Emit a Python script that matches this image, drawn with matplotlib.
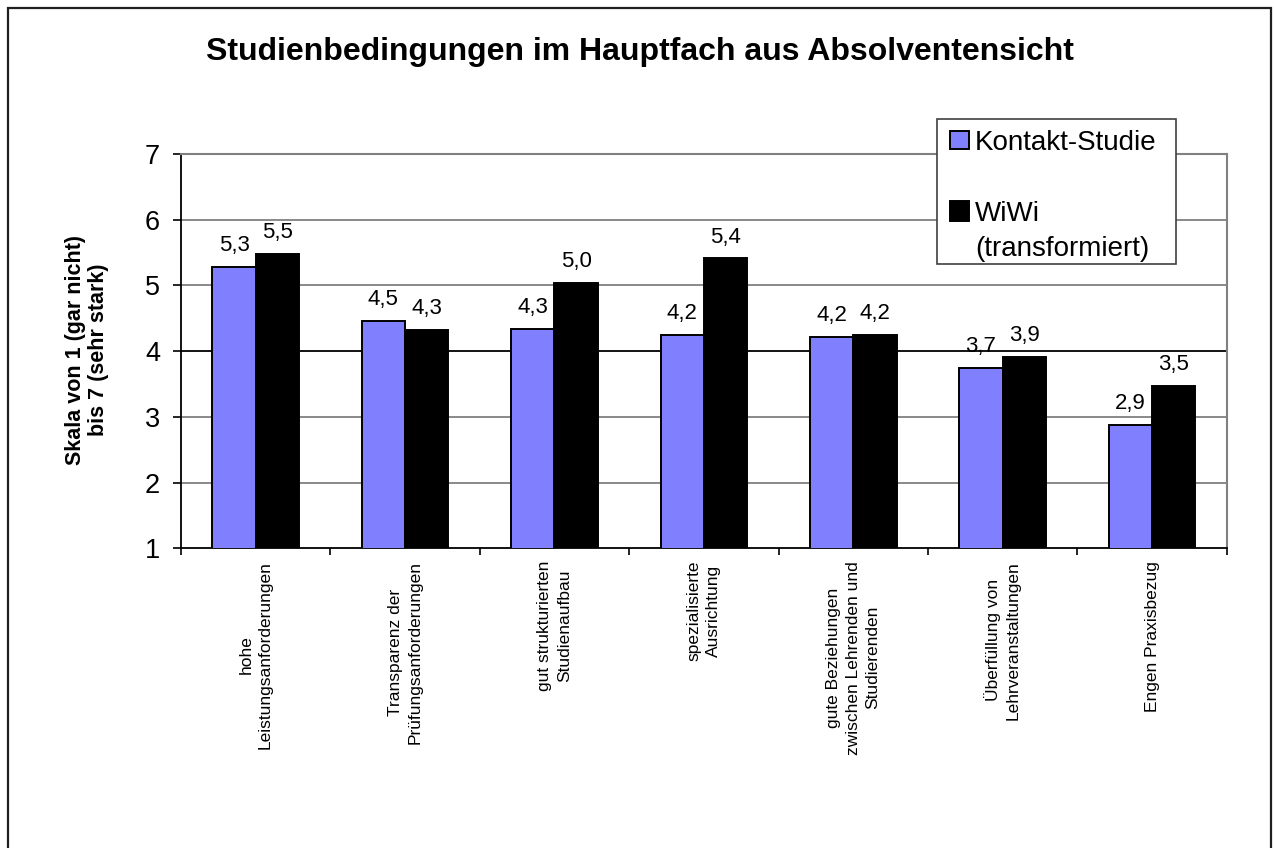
import matplotlib
matplotlib.use("Agg")
import matplotlib.pyplot as plt
from matplotlib.patches import Rectangle
import numpy as np

plt.rcParams['font.family'] = ['Liberation Sans', 'DejaVu Sans']

# Data
categories = [
    "hohe\nLeistungsanforderungen",
    "Transparenz der\nPrüfungsanforderungen",
    "gut strukturierten\nStudienaufbau",
    "spezialisierte\nAusrichtung",
    "gute Beziehungen\nzwischen Lehrenden und\nStudierenden",
    "Überfüllung von\nLehrveranstaltungen",
    "Engen Praxisbezug",
]
kontakt = [5.28, 4.46, 4.34, 4.24, 4.21, 3.74, 2.88]
wiwi = [5.48, 4.32, 5.04, 5.41, 4.24, 3.91, 3.47]
series_names = ["Kontakt-Studie", "WiWi", "(transformiert)"]
yticks = [1, 2, 3, 4, 5, 6, 7]

W, H = 1274, 848
fig = plt.figure(figsize=(W / 100, H / 100), dpi=100)


def fx(px):
    return px / W


def fy(py):
    return 1 - py / H


# Plot area
ax = fig.add_axes([fx(181), fy(548.3), fx(1226.7) - fx(181), fy(154) - fy(548.3)])
x = np.arange(len(categories))
bw = 0.29
ax.bar(x - bw / 2, kontakt, bw, bottom=0, color="#8080FF", edgecolor="black",
       linewidth=1.4, zorder=3)
ax.bar(x + bw / 2, wiwi, bw, bottom=0, color="black", edgecolor="black",
       linewidth=1.4, zorder=3)

ax.set_xlim(-0.5, len(categories) - 0.5)
ax.set_ylim(1, 7)

# Gridlines
for v in yticks[1:]:
    ax.axhline(v, color="black" if v == 4 else "#808080", linewidth=1.3, zorder=1)

for s in ["top", "right"]:
    ax.spines[s].set_color("#808080")
    ax.spines[s].set_linewidth(1.5)
for s in ["left", "bottom"]:
    ax.spines[s].set_color("black")
    ax.spines[s].set_linewidth(1.3)

ax.set_yticks(yticks)
ax.set_yticklabels([str(t) for t in yticks], fontsize=19.5)
ax.tick_params(axis="y", direction="out", length=6, width=1.2, pad=9)

ax.set_xticks(x)
ax.set_xticklabels(categories, rotation=90, fontsize=12.5, ha="center", va="top",
                   multialignment="center", linespacing=1.4)
ax.tick_params(axis="x", which="major", length=0, pad=9)
ax.set_xticks(np.arange(-0.5, len(categories)), minor=True)
ax.tick_params(axis="x", which="minor", direction="out", length=5, width=1.2)

# Value labels
for xi, v in zip(x - bw / 2, kontakt):
    ax.annotate(f"{v:.1f}".replace(".", ","), (xi, v), xytext=(0, 11.5),
                textcoords="offset points", ha="center", va="baseline", fontsize=16)
for xi, v in zip(x + bw / 2, wiwi):
    ax.annotate(f"{v:.1f}".replace(".", ","), (xi, v), xytext=(0, 11.5),
                textcoords="offset points", ha="center", va="baseline", fontsize=16)

# Title and axis label
fig.text(fx(640), fy(60), "Studienbedingungen im Hauptfach aus Absolventensicht",
         ha="center", va="baseline", fontsize=23, fontweight="bold")
fig.text(fx(87), fy(350), "Skala von 1 (gar nicht)\nbis 7 (sehr stark)", rotation=90,
         ha="center", va="center", fontsize=15.5, fontweight="bold",
         multialignment="center", linespacing=1.15)

# Legend box
fig.patches.append(Rectangle((fx(937), fy(264)), fx(1175.7) - fx(937), fy(119.3) - fy(264),
                             transform=fig.transFigure, facecolor="white",
                             edgecolor="#404040", linewidth=1.2, zorder=5))
fig.patches.append(Rectangle((fx(949.5), fy(149)), fx(969) - fx(949.5), fy(130.7) - fy(149),
                             transform=fig.transFigure, facecolor="#8080FF",
                             edgecolor="black", linewidth=1.4, zorder=6))
fig.patches.append(Rectangle((fx(949.5), fy(221)), fx(969) - fx(949.5), fy(201) - fy(221),
                             transform=fig.transFigure, facecolor="black",
                             edgecolor="black", linewidth=1.4, zorder=6))
fig.text(fx(975), fy(150), series_names[0], ha="left", va="baseline", fontsize=20, zorder=7)
fig.text(fx(975), fy(221), series_names[1], ha="left", va="baseline", fontsize=20, zorder=7)
fig.text(fx(975), fy(256), series_names[2], ha="left", va="baseline", fontsize=20, zorder=7)

# Outer frame
fig.patches.append(Rectangle((fx(7.5), -0.05), fx(1271) - fx(7.5), fy(7.5) + 0.05,
                             transform=fig.transFigure, facecolor="none",
                             edgecolor="#202020", linewidth=1.6, zorder=0))

fig.savefig("out.png", dpi=100)
